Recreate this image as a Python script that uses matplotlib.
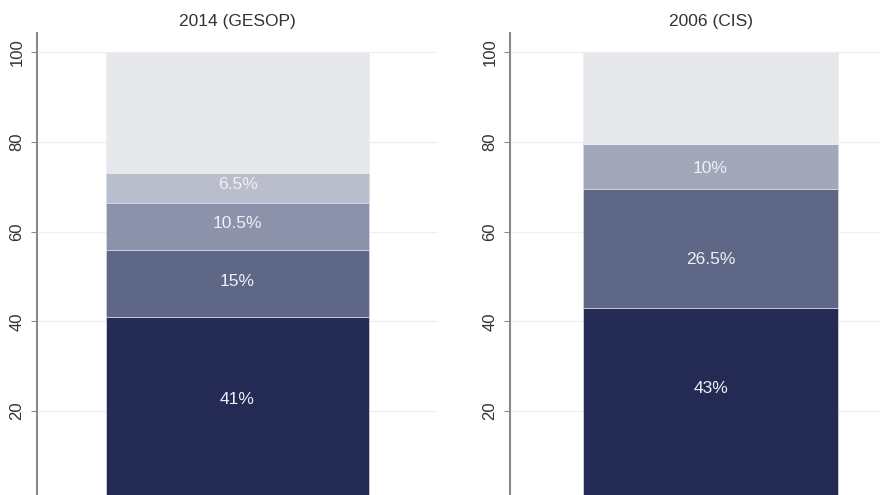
import numpy as np
import matplotlib.pyplot as plt

plt.rcParams['font.family'] = ['Liberation Sans', 'DejaVu Sans']

# datos
titulos = ["2014 (GESOP)", "2006 (CIS)"]
valores_2014 = [41, 15, 10.5, 6.5]
valores_2006 = [43, 26.5, 10]
etiquetas_2014 = ["41%", "15%", "10.5%", "6.5%"]
etiquetas_2006 = ["43%", "26.5%", "10%"]
colores_2014 = ["#232a54", "#5f6787", "#8c92aa", "#babdcb"]
colores_2006 = ["#232a54", "#5f6787", "#a2a7ba"]
color_resto = "#e7e8ec"
yticks = [20, 40, 60, 80, 100]

# ajuste vertical de las etiquetas respecto al centro del segmento
desp_2014 = [2.2, 0.5, 0.6, 0.8]
desp_2006 = [3.5, -2.5, -0.3]

fig = plt.figure(figsize=(8.8, 4.95), dpi=100)

paneles = [
    (titulos[0], valores_2014, etiquetas_2014, colores_2014, desp_2014, 37 / 880, 0.655),
    (titulos[1], valores_2006, etiquetas_2006, colores_2006, desp_2006, 510 / 880, 0.635),
]

for titulo, vals, etiq, cols, desp, x0, ancho in paneles:
    ax = fig.add_axes([x0, 0, 401 / 880, 1 - 33 / 495])
    base = 0
    for v, e, c, d in zip(vals, etiq, cols, desp):
        ax.bar(0, v, bottom=base, width=ancho, color=c, edgecolor="#d8dbe4",
               linewidth=0.5, zorder=2)
        ax.text(0, base + v / 2 + d, e, ha="center", va="center", color="#eef0f6",
                fontsize=12.5, zorder=3)
        base += v
    ax.bar(0, 100 - base, bottom=base, width=ancho, color=color_resto,
           edgecolor="#eceef2", linewidth=0.5, zorder=2)

    ax.set_xlim(-0.5, 0.5)
    ax.set_ylim(1.3, 104.3)
    ax.set_yticks(yticks)
    ax.set_yticklabels([str(t) for t in yticks], rotation=90, va="center",
                       fontsize=12, color="#333333")
    ax.set_xticks([])
    ax.grid(axis="y", color="#f0f0f0", linewidth=1, zorder=0)
    for s in ["top", "right", "bottom"]:
        ax.spines[s].set_visible(False)
    ax.spines["left"].set_color("#8a8a8a")
    ax.spines["left"].set_linewidth(1.5)
    ax.tick_params(axis="y", length=4, color="#8a8a8a", pad=5)
    ax.set_title(titulo, fontsize=12.5, color="#333333", pad=5)

fig.savefig("out.png", dpi=100)
